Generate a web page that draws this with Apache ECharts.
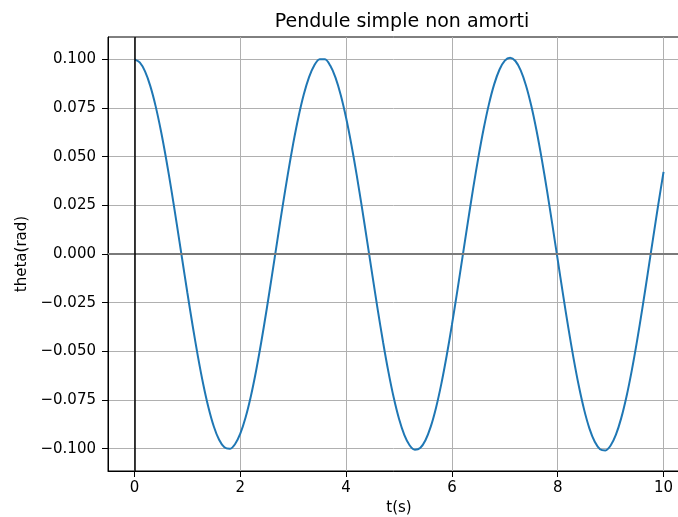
<!DOCTYPE html>
<html><head><meta charset="utf-8">
<script src="https://cdn.jsdelivr.net/npm/echarts@6/dist/echarts.min.js"></script>
<style>html,body{margin:0;padding:0;background:#fff}#c{width:678px;height:517px}</style>
</head><body><div id="c"></div>
<script>
const titleText = 'Pendule simple non amorti';
const xName = 't(s)';
const yName = 'theta(rad)';
const xTicks = [0, 2, 4, 6, 8, 10];
const yTicks = [-0.1, -0.075, -0.05, -0.025, 0, 0.025, 0.05, 0.075, 0.1];
const xRange = [-0.5, 10.5];
const yRange = [-0.1115, 0.1115];
const times = [0.0,0.1,0.2,0.3,0.4,0.5,0.6,0.7,0.8,0.9,1.0,1.1,1.2,1.3,1.4,1.5,1.6,1.7,1.8,1.9,
  2.0,2.1,2.2,2.3,2.4,2.5,2.6,2.7,2.8,2.9,3.0,3.1,3.2,3.3,3.4,3.5,3.6,3.7,3.8,3.9,
  4.0,4.1,4.2,4.3,4.4,4.5,4.6,4.7,4.8,4.9,5.0,5.1,5.2,5.3,5.4,5.5,5.6,5.7,5.8,5.9,
  6.0,6.1,6.2,6.3,6.4,6.5,6.6,6.7,6.8,6.9,7.0,7.1,7.2,7.3,7.4,7.5,7.6,7.7,7.8,7.9,
  8.0,8.1,8.2,8.3,8.4,8.5,8.6,8.7,8.8,8.9,9.0,9.1,9.2,9.3,9.4,9.5,9.6,9.7,9.8,9.9,10.0];
const theta = [0.10000,0.09845,0.09382,0.08625,0.07598,0.06333,0.04870,0.03254,0.01536,-0.00230,
  -0.01990,-0.03688,-0.05271,-0.06690,-0.07899,-0.08862,-0.09547,-0.09934,-0.10011,-0.09775,
  -0.09232,-0.08400,-0.07306,-0.05983,-0.04472,-0.02825,-0.01082,0.00692,0.02445,0.04121,
  0.05669,0.07040,0.08191,0.09087,0.09698,0.10006,0.10001,0.09682,0.09062,0.08158,
  0.06998,0.05618,0.04063,0.02381,0.00623,-0.01154,-0.02896,-0.04548,-0.06058,-0.07378,
  -0.08468,-0.09293,-0.09828,-0.10056,-0.09969,-0.09570,-0.08872,-0.07896,-0.06673,-0.05241,
  -0.03644,-0.01933,-0.00161,0.01616,0.03343,0.04966,0.06434,0.07701,0.08728,0.09481,
  0.09939,0.10085,0.09916,0.09437,0.08662,0.07616,0.06332,0.04849,0.03215,0.01479,
  -0.00303,-0.02076,-0.03785,-0.05376,-0.06799,-0.08009,-0.08970,-0.09649,-0.10028,-0.10093,
  -0.09842,-0.09282,-0.08433,-0.07320,-0.05977,-0.04447,-0.02781,-0.01020,0.00769,0.02534,0.04221];

const FONT = 'DejaVu Sans';
const chart = echarts.init(document.getElementById('c'), null, {renderer: 'canvas'});
const data = times.map((t, i) => [t, theta[i]]);
chart.setOption({
  animation: false,
  backgroundColor: '#fff',
  title: {
    text: titleText, left: 397, top: 8, textAlign: 'center',
    textStyle: {fontFamily: FONT, fontSize: 19, fontWeight: 'normal', color: '#000'}
  },
  grid: {left: 108, top: 37, width: 582, bottom: 46, outerBoundsMode: 'none', containLabel: false,
    show: true, borderColor: '#000', borderWidth: 1, backgroundColor: '#fff'},
  xAxis: {
    type: 'value', min: xRange[0], max: xRange[1],
    name: xName, nameLocation: 'middle', nameGap: 30,
    nameTextStyle: {fontFamily: FONT, fontSize: 15, color: '#000'},
    axisLine: {show: true, onZero: false, lineStyle: {color: '#000', width: 1}},
    axisTick: {show: true, length: 6, customValues: xTicks, lineStyle: {color: '#000'}},
    axisLabel: {customValues: xTicks, margin: 10, fontFamily: FONT, fontSize: 15, color: '#000'},
    splitLine: {show: true, lineStyle: {color: '#b0b0b0', width: 1}}
  },
  yAxis: {
    type: 'value', min: yRange[0], max: yRange[1],
    name: yName, nameLocation: 'middle', nameGap: 78, nameRotate: 90,
    nameTextStyle: {fontFamily: FONT, fontSize: 15, color: '#000'},
    axisLine: {show: true, onZero: false, lineStyle: {color: '#000', width: 1}},
    axisTick: {show: true, length: 6, customValues: yTicks, lineStyle: {color: '#000'}},
    axisLabel: {customValues: yTicks, margin: 12, fontFamily: FONT, fontSize: 15, color: '#000',
      formatter: v => (v < -1e-9 ? '\u2212' : '') + Math.abs(v).toFixed(3)},
    splitLine: {show: true, lineStyle: {color: '#b0b0b0', width: 1}}
  },
  series: [
    {
      type: 'line', data: [], z: 1, silent: true,
      markLine: {
        silent: true, symbol: 'none', animation: false, label: {show: false},
        data: [
          {yAxis: 0, lineStyle: {color: '#7a7a7a', width: 2, type: 'solid'}},
          {xAxis: 0, lineStyle: {color: '#000', width: 1.5, type: 'solid'}}
        ]
      }
    },
    {
      type: 'line', data: data, z: 3, showSymbol: false, symbol: 'none', smooth: 0.3,
      lineStyle: {color: '#1f77b4', width: 2}, itemStyle: {color: '#1f77b4'}
    }
  ]
});
</script></body></html>
